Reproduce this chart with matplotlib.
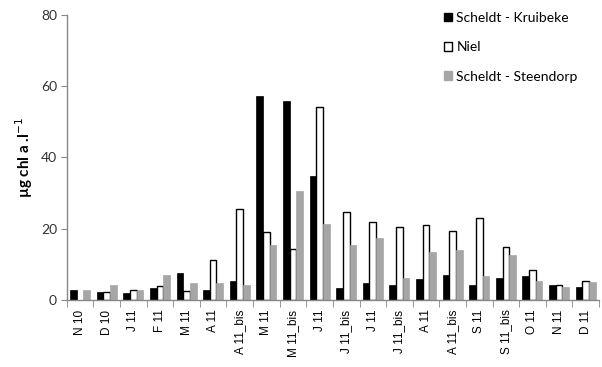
import numpy as np
import matplotlib
matplotlib.use("Agg")
import matplotlib.pyplot as plt
from matplotlib.patches import Patch

categories = ["N 10", "D 10", "J 11", "F 11", "M 11", "A 11", "A 11_bis", "M 11",
              "M 11_bis", "J 11", "J 11_bis", "J 11", "J 11_bis", "A 11", "A 11_bis",
              "S 11", "S 11_bis", "O 11", "N 11", "D 11"]
kruibeke = [2.8, 2.3, 2.0, 3.3, 7.4, 2.9, 5.2, 57.4, 55.9, 34.9, 3.2, 4.7, 4.3, 5.9,
            7.0, 4.1, 6.1, 6.8, 4.2, 3.7]
niel = [np.nan, 2.3, 2.7, 4.0, 2.6, 11.2, 25.6, 19.1, 14.4, 54.3, 24.7, 21.8, 20.6,
        20.9, 19.4, 23.1, 14.9, 8.5, 4.2, 5.2]
steendorp = [2.7, 4.3, 2.9, 7.1, 4.7, 4.7, 4.1, 15.3, 30.7, 21.4, 15.3, 17.3, 6.1,
             13.3, 14.1, 6.8, 12.7, 5.2, 3.7, 5.1]
series_names = ["Scheldt - Kruibeke", "Niel", "Scheldt - Steendorp"]
yticks = [0, 20, 40, 60, 80]

plt.rcParams['font.family'] = ['Lato', 'DejaVu Sans']

fig = plt.figure(figsize=(6.02, 3.67), dpi=100)
ax = fig.add_axes([0.111, 0.183, 0.884, 0.776])

x = np.arange(len(categories))
w = 0.25
gray = "#a6a6a6"
ax.bar(x - w, kruibeke, w, color="black", edgecolor="black", linewidth=0.5)
ax.bar(x, niel, w, color="white", edgecolor="black", linewidth=1.0)
ax.bar(x + w, steendorp, w, color=gray, edgecolor=gray, linewidth=0.5)

ax.set_xlim(-0.5, len(categories) - 0.5)
ax.set_ylim(0, 80)
ax.set_yticks(yticks)
ax.tick_params(axis='y', direction='out', length=4, color='#888888', labelsize=10,
               labelcolor='#333333', pad=3)
ax.set_xticks(x)
ax.set_xticklabels(categories, rotation=90, fontsize=8.5,
                   fontfamily=['Liberation Sans', 'DejaVu Sans'])
ax.tick_params(axis='x', which='major', length=0, pad=7)
ax.set_xticks(np.arange(-0.5, len(categories), 1), minor=True)
ax.tick_params(axis='x', which='minor', length=5, color='#888888', direction='out')

for s in ['top', 'right']:
    ax.spines[s].set_visible(False)
for s in ['left', 'bottom']:
    ax.spines[s].set_color('#888888')
    ax.spines[s].set_linewidth(1.0)

ax.set_ylabel("µg chl a .l$^{-1}$", fontsize=11, fontweight='bold', labelpad=4)

handles = [Patch(facecolor='black', edgecolor='black'),
           Patch(facecolor='white', edgecolor='black'),
           Patch(facecolor=gray, edgecolor=gray)]
ax.legend(handles, series_names, loc='upper left', bbox_to_anchor=(0.685, 1.055),
          frameon=False, fontsize=10, handlelength=0.6, handleheight=0.6,
          handletextpad=0.3, labelspacing=1.25)

fig.savefig("out.png", dpi=100)
